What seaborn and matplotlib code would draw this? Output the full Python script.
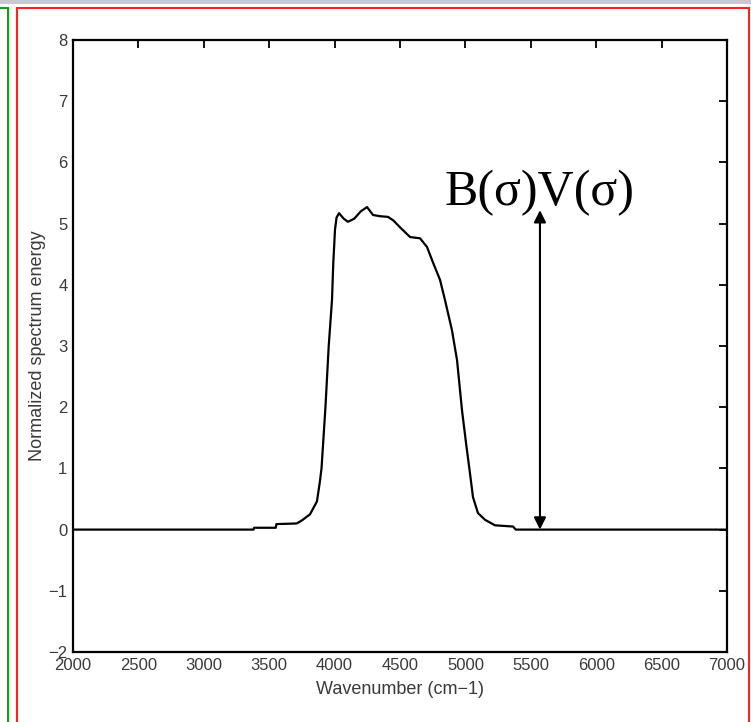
import matplotlib
matplotlib.use("Agg")
import matplotlib.pyplot as plt
from matplotlib.lines import Line2D
from matplotlib.patches import Rectangle
import seaborn as sns
import pandas as pd

# ---- data ----
wavenumber = [2000, 3380, 3385, 3550, 3555, 3710, 3750, 3812, 3865, 3888,
              3900, 3930, 3955, 3980, 3990, 4003, 4015, 4034, 4070, 4102,
              4150, 4200, 4248, 4294, 4350, 4408, 4450, 4500, 4577, 4653,
              4706, 4755, 4806, 4844, 4897, 4936, 4974, 5005, 5035, 5058,
              5096, 5150, 5226, 5364, 5385, 7000]
energy = [0, 0, 0.03, 0.03, 0.09, 0.10, 0.15, 0.25, 0.46, 0.79,
          1.0, 2.0, 3.0, 3.75, 4.36, 4.90, 5.10, 5.17, 5.08, 5.03,
          5.08, 5.20, 5.27, 5.14, 5.12, 5.11, 5.05, 4.94, 4.78, 4.76,
          4.62, 4.35, 4.08, 3.75, 3.26, 2.77, 1.95, 1.41, 0.92, 0.53,
          0.27, 0.16, 0.07, 0.05, 0.0, 0.0]
x_ticks = [2000, 2500, 3000, 3500, 4000, 4500, 5000, 5500, 6000, 6500, 7000]
y_ticks = [-2, -1, 0, 1, 2, 3, 4, 5, 6, 7, 8]
x_label = "Wavenumber (cm\u22121)"
y_label = "Normalized spectrum energy"
annot_text = "B(\u03c3)V(\u03c3)"
arrow_x = 5570
arrow_top = 5.22
text_y = 5.30

df = pd.DataFrame({"wavenumber": wavenumber, "energy": energy})

sns.set_theme(style="white")
plt.rcParams["font.family"] = ["Liberation Sans", "DejaVu Sans"]

W, H = 751, 722
fig = plt.figure(figsize=(W / 100, H / 100), dpi=100)
fig.patch.set_facecolor("white")
ax = fig.add_axes([73 / W, 1 - 652 / H, (727 - 73) / W, (652 - 40) / H])

sns.lineplot(data=df, x="wavenumber", y="energy", ax=ax, color="black",
             linewidth=1.6, estimator=None, sort=False)

ax.set_xlim(2000, 7000)
ax.set_ylim(-2, 8)
ax.set_xticks(x_ticks)
ax.set_yticks(y_ticks)
ax.set_xticklabels([str(t) for t in x_ticks])
ax.set_yticklabels([str(t).replace("-", "\u2212") for t in y_ticks])
ax.tick_params(direction="in", length=6, width=1.3, top=True, right=True,
               labelsize=12, colors="black", pad=4)
for lab in ax.get_xticklabels() + ax.get_yticklabels():
    lab.set_color("#3a3a3a")
for s in ax.spines.values():
    s.set_color("black")
    s.set_linewidth(1.6)
ax.set_xlabel(x_label, fontsize=13, color="#3a3a3a", labelpad=6)
ax.set_ylabel(y_label, fontsize=13, color="#3a3a3a", labelpad=2)
ax.grid(False)

ax.annotate("", xy=(arrow_x, arrow_top), xytext=(arrow_x, 0),
            arrowprops=dict(arrowstyle="<|-|>", color="black", lw=1.5,
                            mutation_scale=18, shrinkA=0, shrinkB=0))
ax.text(arrow_x, text_y, annot_text, ha="center", va="baseline",
        fontsize=36, family=["Liberation Serif", "DejaVu Serif"], color="black")

# ---- surrounding window frame ----
def px_line(x0, y0, x1, y1, color, lw):
    fig.add_artist(Line2D([x0 / W, x1 / W], [1 - y0 / H, 1 - y1 / H],
                          transform=fig.transFigure, color=color, lw=lw))

fig.add_artist(Rectangle((0, 1 - 4 / H), 1, 4 / H, transform=fig.transFigure,
                         color="#c8c8d0", lw=0))
px_line(0, 8, 8, 8, "#10a010", 1.5)
px_line(8, 8, 8, H, "#10a010", 1.5)
px_line(17, 8, 749, 8, "#ff2020", 1.5)
px_line(17, 8, 17, H, "#ff2020", 1.5)
px_line(749, 8, 749, H, "#ff2020", 1.5)

fig.savefig("out.png", dpi=100)
